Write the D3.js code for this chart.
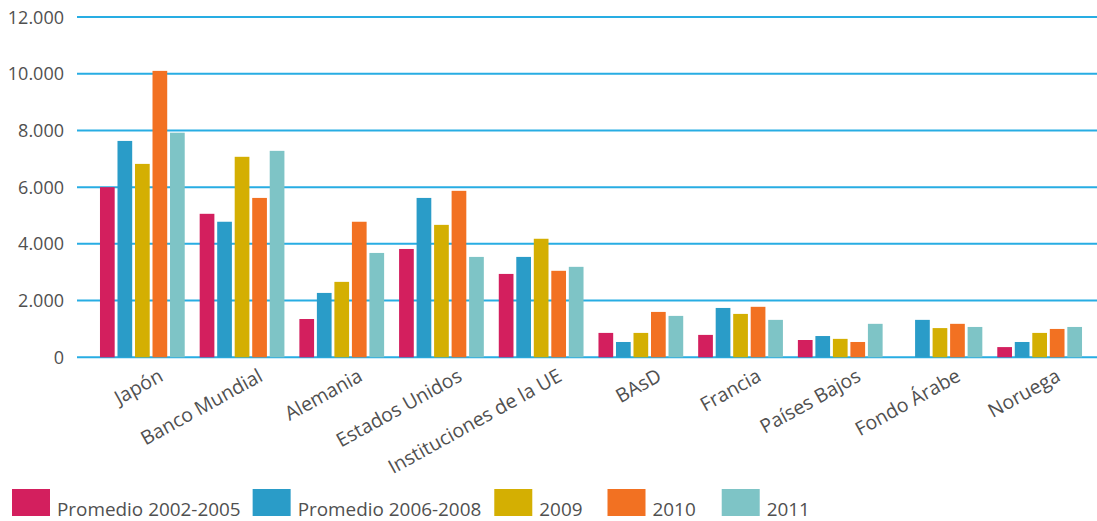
<!DOCTYPE html>
<html><head><meta charset="utf-8">
<script src="https://cdn.jsdelivr.net/npm/d3@7"></script>
<style>body{margin:0;background:#fff}svg{display:block}</style>
</head><body><svg id="c" width="1097" height="521"></svg>
<script>
const categories = ["Japón","Banco Mundial","Alemania","Estados Unidos","Instituciones de la UE","BAsD","Francia","Países Bajos","Fondo Árabe","Noruega"];
const seriesNames = ["Promedio 2002-2005","Promedio 2006-2008","2009","2010","2011"];
const colors = ["#d31f5e","#2a9cc8","#d4af02","#f27122","#7ec4c6"];
const prom0205 = [6000,5060,1350,3820,2940,860,790,610,null,360];
const prom0608 = [7630,4780,2270,5620,3540,540,1740,750,1320,540];
const y2009 = [6820,7070,2660,4670,4180,860,1530,650,1030,860];
const y2010 = [10100,5620,4780,5870,3050,1600,1780,540,1180,1000];
const y2011 = [7920,7280,3680,3540,3190,1460,1320,1180,1070,1070];
const yTicks = [0,2000,4000,6000,8000,10000,12000];
const seriesValues = [prom0205,prom0608,y2009,y2010,y2011];

const svg = d3.select("#c");
const font = "'Open Sans', 'Noto Sans', sans-serif";
const y = d3.scaleLinear().domain([0,12000]).range([357.3,17]);
const x0 = d3.scaleBand().domain(categories).range([92.5,1089.5]).paddingInner(0.15).paddingOuter(0.075);
const x1 = d3.scaleBand().domain(d3.range(5)).range([0,x0.bandwidth()]).paddingInner(0.16);

// grid
const fmt = v => d3.format(",")(v).replace(/,/g,".");
svg.append("g").selectAll("line").data(yTicks).join("line")
  .attr("x1",77).attr("x2",1097)
  .attr("y1",d=>y(d)).attr("y2",d=>y(d))
  .attr("stroke","#28ade3").attr("stroke-width",2);
svg.append("g").selectAll("text").data(yTicks).join("text")
  .attr("x",64).attr("y",d=>y(d)+6.5).attr("text-anchor","end")
  .attr("font-family",font).attr("font-size",18).attr("fill","#505050")
  .text(fmt);

// bars
const g = svg.append("g");
categories.forEach((c,i)=>{
  seriesValues.forEach((arr,s)=>{
    const v = arr[i];
    if(v==null) return;
    g.append("rect").attr("x",x0(c)+x1(s)).attr("width",x1.bandwidth())
      .attr("y",y(v)).attr("height",y(0)-y(v)).attr("fill",colors[s]);
  });
});

// x labels
svg.append("g").selectAll("text").data(categories).join("text")
  .attr("transform",d=>`translate(${x0(d)+x0.bandwidth()/2+22},380) rotate(-29)`)
  .attr("text-anchor","end").attr("font-family",font).attr("font-size",19.5).attr("fill","#505050")
  .text(d=>d);

// legend
const gaps = [12,13,25,26,0];
const leg = svg.append("g");
let lx = 12;
seriesNames.forEach((n,s)=>{
  leg.append("rect").attr("x",lx).attr("y",489).attr("width",38).attr("height",27).attr("fill",colors[s]);
  const t = leg.append("text").attr("x",lx+45).attr("y",515.5).attr("font-family",font)
    .attr("font-size",18.9).attr("fill","#505050").text(n);
  lx = lx + 45 + t.node().getComputedTextLength() + gaps[s];
});
</script></body></html>
